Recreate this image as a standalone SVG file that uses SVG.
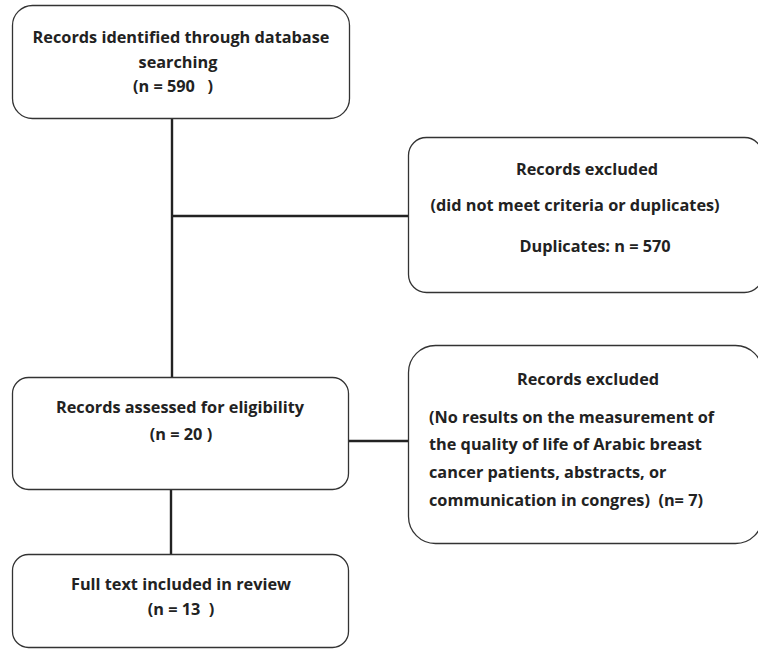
<svg xmlns="http://www.w3.org/2000/svg" width="758" height="649" viewBox="0 0 758 649">
<style>
.box{fill:#fff;stroke:#333;stroke-width:1.3}
.t{font-family:"Open Sans","Liberation Sans",sans-serif;font-weight:700;font-size:16.3px;fill:#222}
.c{text-anchor:middle}
.con{stroke:#222;stroke-width:2.4;fill:none}
</style>
<rect width="758" height="649" fill="#fff"/>
<g id="connectors">
<line class="con" x1="172" y1="118" x2="172" y2="377"/>
<line class="con" x1="172" y1="216" x2="408" y2="216"/>
<line class="con" x1="349" y1="441" x2="408" y2="441"/>
<line class="con" x1="171" y1="490" x2="171" y2="554"/>
</g>
<g id="n1">
<rect class="box" x="12.5" y="5.5" width="337" height="113" rx="20"/>
<text class="t c" x="181" y="43">Records identified through database</text>
<text class="t c" x="178" y="68">searching</text>
<text class="t c" x="173" y="92" xml:space="preserve">(n = 590   )</text>
</g>
<g id="n2">
<rect class="box" x="408.5" y="137.5" width="354" height="155" rx="18"/>
<text class="t c" x="587" y="175">Records excluded</text>
<text class="t c" x="575" y="211">(did not meet criteria or duplicates)</text>
<text class="t c" x="595" y="252">Duplicates: n = 570</text>
</g>
<g id="n3">
<rect class="box" x="408.5" y="345.5" width="354" height="198" rx="27"/>
<text class="t c" x="588" y="385">Records excluded</text>
<text class="t" x="429" y="423">(No results on the measurement of</text>
<text class="t" x="429" y="450">the quality of life of Arabic breast</text>
<text class="t" x="429" y="478">cancer patients, abstracts, or</text>
<text class="t" x="429" y="506" xml:space="preserve">communication in congres)  (n= 7)</text>
</g>
<g id="n4">
<rect class="box" x="12.5" y="377.5" width="336" height="112" rx="16"/>
<text class="t c" x="180" y="413">Records assessed for eligibility</text>
<text class="t c" x="181" y="440">(n = 20 )</text>
</g>
<g id="n5">
<rect class="box" x="12.5" y="554.5" width="336" height="93" rx="16"/>
<text class="t c" x="181" y="590">Full text included in review</text>
<text class="t c" x="181" y="615" xml:space="preserve">(n = 13  )</text>
</g>
</svg>
